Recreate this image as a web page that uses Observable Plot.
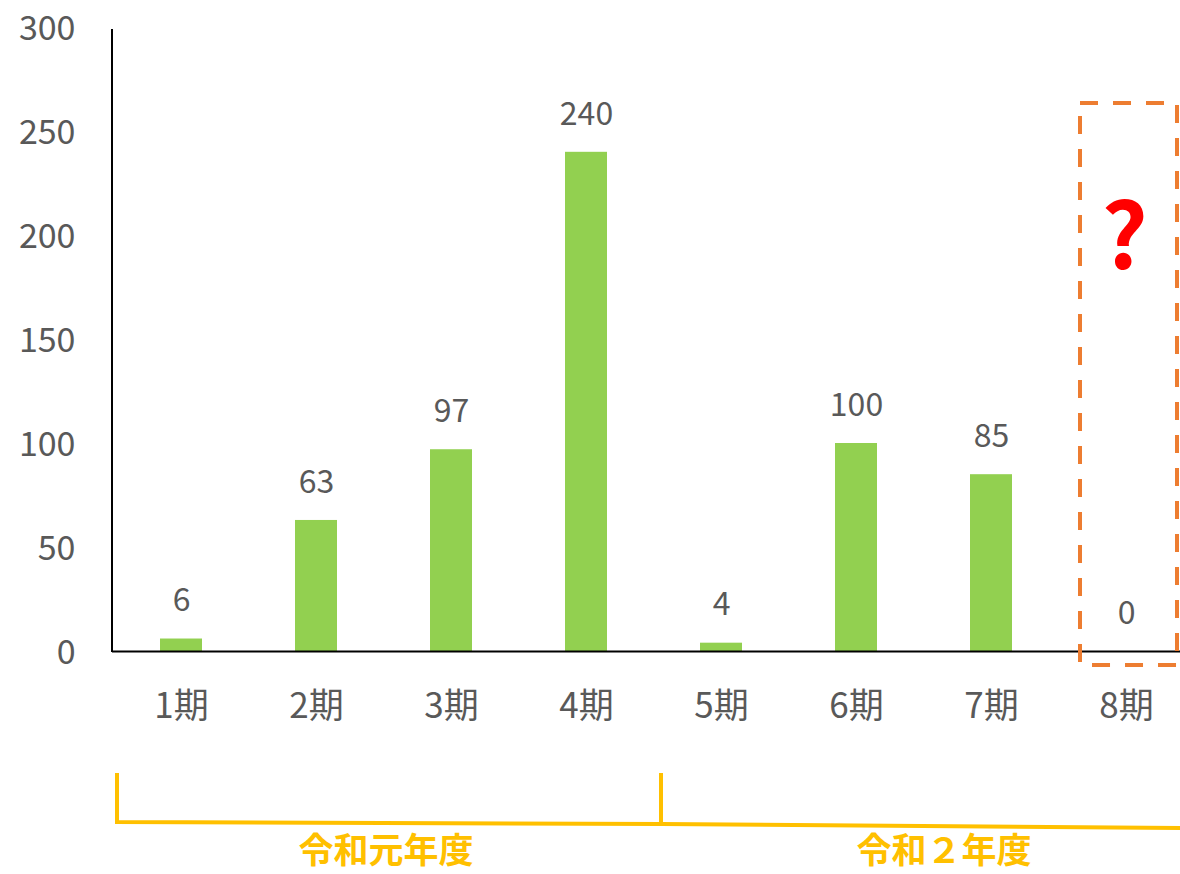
<!DOCTYPE html>
<html><head><meta charset="utf-8">
<script src="https://cdn.jsdelivr.net/npm/d3@7"></script>
<script src="https://cdn.jsdelivr.net/npm/@observablehq/plot@0.6"></script>
<style>
html,body{margin:0;padding:0;background:#fff;}
#chart{position:relative;width:1180px;height:874px;overflow:hidden;}
</style>
</head><body><div id="chart"></div>
<script>
const periods = ["1期","2期","3期","4期","5期","6期","7期","8期"];
const counts = [6, 63, 97, 240, 4, 100, 85, 0];
const yTicks = [0, 50, 100, 150, 200, 250, 300];
const fiscalYears = ["令和元年度", "令和２年度"];
const unknownPeriod = ["8期"];

const data = periods.map((p, i) => ({period: p, count: counts[i]}));
const font = "'Noto Sans CJK JP', 'Noto Sans', sans-serif";

const plot = Plot.plot({
  width: 1180,
  height: 874,
  marginTop: 27,
  marginBottom: 223,
  marginLeft: 112,
  marginRight: 0,
  style: {fontFamily: font, color: "#595959", background: "#fff", overflow: "visible"},
  x: {domain: periods, range: [112, 1194], paddingInner: 0.69, paddingOuter: 0.345, label: null},
  y: {domain: [0, 300], label: null},
  marks: [
    Plot.axisY({ticks: yTicks, tickSize: 0, tickPadding: 37, fontSize: 34, dy: 2, label: null}),
    Plot.axisX({tickSize: 0, tickPadding: 42, fontSize: 35, label: null}),
    Plot.barY(data, {x: "period", y: "count", fill: "#92D050"}),
    Plot.text(data, {x: "period", y: "count", text: d => String(d.count), dy: -38, fontSize: 32, fill: "#595959"}),
    Plot.ruleY([0], {stroke: "#000", strokeWidth: 2}),
    // dashed box around the unknown period
    Plot.barY(unknownPeriod, {x: d => d, y1: -6.7, y2: 263.5, fill: "none", stroke: "#ED7D31", strokeWidth: 4, strokeDasharray: "18,15", insetLeft: -25, insetRight: -30}),
    Plot.text(unknownPeriod, {x: d => d, y: 200, text: () => "?", fontSize: 90, fontWeight: "bold", fill: "#FF0000", dx: -2, dy: 5})
  ]
});
document.getElementById("chart").appendChild(plot);

// axis line and year brackets (annotations)
const svg = d3.select(plot);
svg.append("line").attr("x1", 112).attr("x2", 112).attr("y1", 29).attr("y2", 652)
  .attr("stroke", "#000").attr("stroke-width", 2);

const br = svg.append("g").attr("stroke", "#FFC000").attr("stroke-width", 4).attr("fill", "none");
br.append("path").attr("d", "M117,773 L117,822 L661,824 L1182,828");
br.append("path").attr("d", "M661,773 L661,824");
svg.append("g").attr("font-family", font).attr("font-weight", "bold").attr("font-size", 35)
  .attr("fill", "#FFC000").attr("text-anchor", "middle")
  .selectAll("text").data(fiscalYears).join("text")
  .attr("x", (d, i) => [386, 944][i]).attr("y", 863).text(d => d);
</script>
</body></html>
